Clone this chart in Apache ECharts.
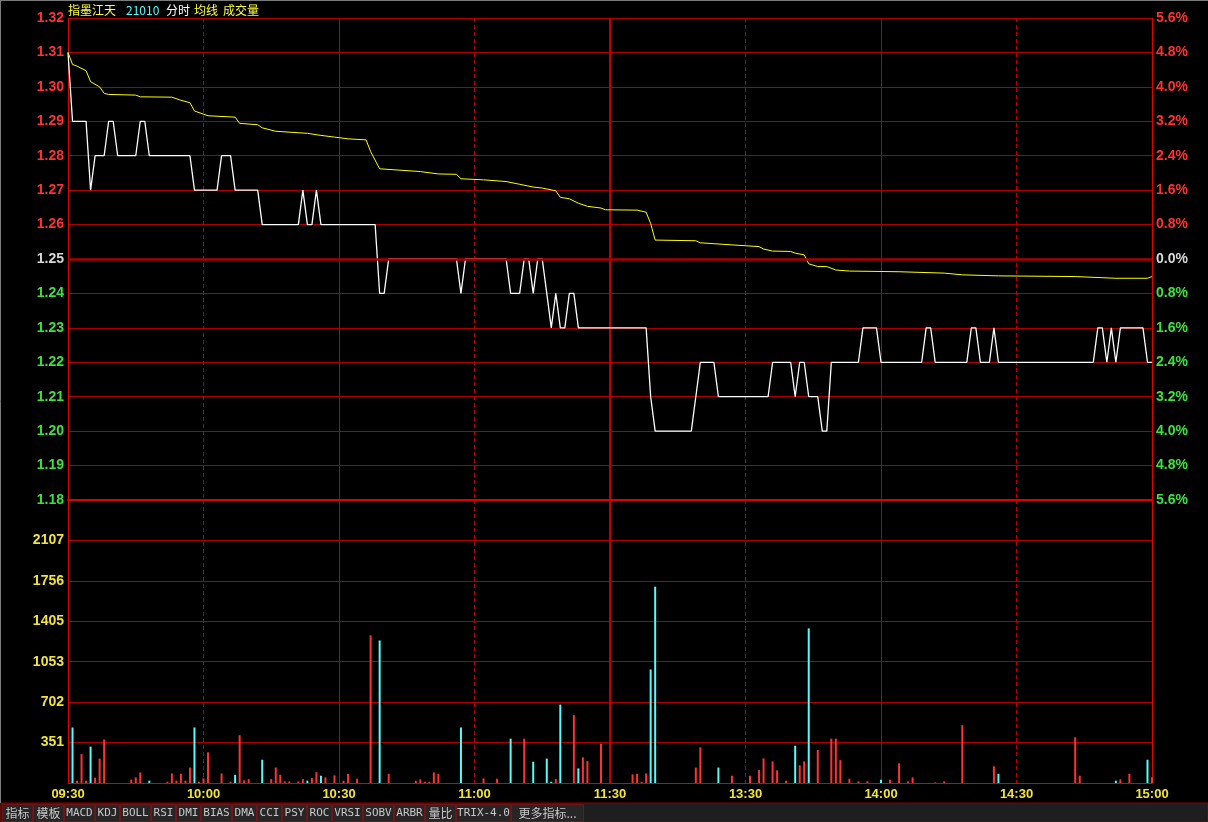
<!DOCTYPE html>
<html><head><meta charset="utf-8">
<script src="https://cdn.jsdelivr.net/npm/echarts@6/dist/echarts.min.js"></script>
<style>html,body{margin:0;padding:0;background:#000;}#c{width:1208px;height:822px;}</style>
</head><body><div id="c"></div>
<script>
// ---------------- data ----------------
const stockName = '指墨江天';
const stockCode = '21010';
const prevClose = 1.25;
const timeLabels = ['09:30','10:00','10:30','11:00','11:30','13:30','14:00','14:30','15:00'];
const volTickLabels = [351, 702, 1053, 1405, 1756, 2107];
// minute prices (241 points, 09:30 .. 11:30 / 13:01 .. 15:00)
const price = [
1.31,1.29,1.29,1.29,1.29,1.27,1.28,1.28,1.28,1.29,
1.29,1.28,1.28,1.28,1.28,1.28,1.29,1.29,1.28,1.28,
1.28,1.28,1.28,1.28,1.28,1.28,1.28,1.28,1.27,1.27,
1.27,1.27,1.27,1.27,1.28,1.28,1.28,1.27,1.27,1.27,
1.27,1.27,1.27,1.26,1.26,1.26,1.26,1.26,1.26,1.26,
1.26,1.26,1.27,1.26,1.26,1.27,1.26,1.26,1.26,1.26,
1.26,1.26,1.26,1.26,1.26,1.26,1.26,1.26,1.26,1.24,
1.24,1.25,1.25,1.25,1.25,1.25,1.25,1.25,1.25,1.25,
1.25,1.25,1.25,1.25,1.25,1.25,1.25,1.24,1.25,1.25,
1.25,1.25,1.25,1.25,1.25,1.25,1.25,1.25,1.24,1.24,
1.24,1.25,1.25,1.24,1.25,1.25,1.24,1.23,1.24,1.23,
1.23,1.24,1.24,1.23,1.23,1.23,1.23,1.23,1.23,1.23,
1.23,1.23,1.23,1.23,1.23,1.23,1.23,1.23,1.23,1.21,
1.20,1.20,1.20,1.20,1.20,1.20,1.20,1.20,1.20,1.21,
1.22,1.22,1.22,1.22,1.21,1.21,1.21,1.21,1.21,1.21,
1.21,1.21,1.21,1.21,1.21,1.21,1.22,1.22,1.22,1.22,
1.22,1.21,1.22,1.22,1.21,1.21,1.21,1.20,1.20,1.22,
1.22,1.22,1.22,1.22,1.22,1.22,1.23,1.23,1.23,1.23,
1.22,1.22,1.22,1.22,1.22,1.22,1.22,1.22,1.22,1.22,
1.23,1.23,1.22,1.22,1.22,1.22,1.22,1.22,1.22,1.22,
1.23,1.23,1.22,1.22,1.22,1.23,1.22,1.22,1.22,1.22,
1.22,1.22,1.22,1.22,1.22,1.22,1.22,1.22,1.22,1.22,
1.22,1.22,1.22,1.22,1.22,1.22,1.22,1.22,1.23,1.23,
1.22,1.23,1.22,1.23,1.23,1.23,1.23,1.23,1.23,1.22,
1.22
];
// average line read at knots [minute index, value]
const avgLine = [
[0,1.310],[1,1.3065],[2,1.306],[4,1.3047],[5,1.3015],[7,1.300],[8,1.2981],[9,1.2978],
[15,1.2976],[16,1.2971],[23,1.2970],[25,1.2961],[27,1.2954],[28,1.293],[31,1.2916],
[37,1.2912],[38,1.2894],[42,1.289],[43,1.2881],[46,1.2871],[53,1.2865],[56,1.2859],
[59,1.2854],[62,1.2849],[66,1.2846],[67,1.2812],[69,1.2762],[78,1.2754],[82,1.2747],
[86,1.2746],[87,1.2733],[92,1.273],[97,1.2725],[100,1.2717],[103,1.2709],[105,1.2706],
[108,1.2698],[109,1.2679],[111,1.2675],[113,1.2662],[115,1.2653],[118,1.2648],[119,1.2643],
[126,1.2642],[128,1.2636],[129,1.2603],[130,1.2555],[139,1.2553],[140,1.2547],[147,1.2541],
[153,1.2536],[154,1.2529],[156,1.2523],[160,1.2522],[161,1.2517],[163,1.2512],[164,1.2486],
[166,1.2478],[168,1.2478],[170,1.2468],[173,1.2465],[184,1.2463],[194,1.2459],[198,1.2454],
[206,1.2451],[223,1.2449],[232,1.2444],[239,1.2444],[240,1.2449]
];
// volume bars [minute index, volume]
const volUp = [
[2,20],[3,252],[4,20],[6,46],[7,212],[8,378],[14,29],[15,49],[16,92],[22,11],[23,83],[24,20],
[25,80],[26,20],[27,134],[29,11],[30,40],[31,266],[34,83],[36,11],[38,415],[39,23],[40,34],
[45,34],[46,134],[47,71],[48,14],[49,14],[51,14],[52,34],[54,43],[55,94],[57,49],[59,66],
[61,20],[62,80],[64,37],[67,1282],[71,80],[77,20],[78,31],[79,11],[80,11],[81,92],[82,80],
[92,40],[95,37],[101,385],[108,34],[112,589],[114,223],[115,190],[118,340],[125,74],[126,80],
[127,11],[128,83],[139,134],[140,310],[147,63],[151,63],[153,114],[154,214],[156,188],[157,110],
[159,20],[162,154],[163,188],[166,287],[169,385],[170,385],[171,199],[173,37],[175,14],[177,14],
[182,29],[184,170],[186,14],[187,49],[192,5],[194,14],[198,502],[205,145],[223,397],[224,63],
[233,31],[235,80],[240,49]
];
const volDown = [
[1,482],[5,316],[18,20],[28,482],[37,71],[43,202],[53,20],[56,63],[69,1238],[87,482],[98,385],
[103,185],[106,212],[107,11],[109,681],[113,127],[129,986],[130,1705],[144,134],[161,324],
[164,1343],[180,29],[206,80],[232,20],[239,202]
];
const tabs = ['指标','模板','MACD','KDJ','BOLL','RSI','DMI','BIAS','DMA','CCI','PSY','ROC','VRSI','SOBV','ARBR','量比','TRIX-4.0','更多指标...'];

// ---------------- build ----------------
const cats = [];
for (let i = 0; i <= 240; i++) {
  let t = i <= 120 ? 9 * 60 + 30 + i : 13 * 60 + (i - 120);
  cats.push(String(Math.floor(t / 60)).padStart(2, '0') + ':' + String(t % 60).padStart(2, '0'));
}
const upArr = new Array(241).fill(null);
volUp.forEach(d => upArr[d[0]] = d[1]);
const dnArr = new Array(241).fill(null);
volDown.forEach(d => dnArr[d[0]] = d[1]);

const RED = '#ff3232', GREEN = '#3fe03f', WHITE = '#d8d8d8', YEL = '#f2e43a', CYAN = '#54fcfc';
const GRID_H = '#aa0000', GRID_V = '#c00000', BORDER = '#e00000';
const FONT = "'Liberation Sans', Arial, sans-serif";

// helper axes drawing the vertical grid of a panel
function gridAxes(g) {
  const base = { type: 'category', gridIndex: g, data: cats, boundaryGap: false, show: true,
    axisLine: { show: false }, axisTick: { show: false }, axisLabel: { show: false } };
  return [
    Object.assign({}, base, { splitLine: { show: true, interval: (i) => i === 60 || i === 180,
      lineStyle: { color: GRID_V, width: 1, type: 'solid' } } }),
    Object.assign({}, base, { splitLine: { show: true, interval: (i) => i === 120,
      lineStyle: { color: GRID_V, width: 2, type: 'solid' } } }),
    Object.assign({}, base, { splitLine: { show: true, interval: (i) => i % 60 === 30,
      lineStyle: { color: GRID_V, width: 1, type: [4, 3] } } })
  ];
}

const graphics = [];
// title
[[stockName, 68, '#ffff3c'], [stockCode, 126, CYAN], ['分时', 166, '#ffffff'], ['均线', 194, '#ffff3c'], ['成交量', 223, '#ffff3c']]
  .forEach(t => graphics.push({ type: 'text', x: t[1], y: 10, silent: true,
    style: { text: t[0], fill: t[2], font: "12px 'Noto Sans CJK SC', 'Liberation Sans', sans-serif", verticalAlign: 'middle', align: 'left' } }));
// bottom tab bar
graphics.push({ type: 'rect', shape: { x: 0, y: 803, width: 1208, height: 19 }, style: { fill: '#1e1e1e', stroke: '#8a0000', lineWidth: 1 }, silent: true });
let tx = 2;
tabs.forEach(name => {
  const cjk = (name.match(/[\u4e00-\u9fff]/g) || []).length;
  const w = cjk * 12 + (name.length - cjk) * 6 + 7;
  graphics.push({ type: 'rect', shape: { x: tx + 0.5, y: 804.5, width: w - 1, height: 17 }, style: { fill: '#262626', stroke: '#6e1616', lineWidth: 1 }, silent: true });
  graphics.push({ type: 'text', x: tx + w / 2, y: 813, silent: true,
    style: { text: name, fill: '#c8c8c8', align: 'center', verticalAlign: 'middle',
      font: cjk ? "12px 'Noto Sans CJK SC', sans-serif" : "11px 'DejaVu Sans Mono', monospace" } });
  tx += w;
});
// outer window edge
graphics.push({ type: 'line', shape: { x1: 0, y1: 0.5, x2: 1208, y2: 0.5 }, style: { stroke: '#7a7a7a', lineWidth: 1 }, silent: true });
graphics.push({ type: 'line', shape: { x1: 0.5, y1: 0, x2: 0.5, y2: 803 }, style: { stroke: '#7a7a7a', lineWidth: 1 }, silent: true });

const chart = echarts.init(document.getElementById('c'), null, { renderer: 'canvas' });
chart.setOption({
  backgroundColor: '#000',
  animation: false,
  graphic: graphics,
  grid: [
    { left: 68, right: 56, top: 18, height: 482 },
    { left: 68, right: 56, top: 500, height: 283 }
  ],
  xAxis: [
    { type: 'category', gridIndex: 0, data: cats, boundaryGap: false,
      axisLine: { show: true, onZero: false, lineStyle: { color: BORDER, width: 2 } },
      axisTick: { show: false }, axisLabel: { show: false }, splitLine: { show: false } },
    { type: 'category', gridIndex: 1, data: cats, boundaryGap: false,
      axisLine: { show: true, onZero: false, lineStyle: { color: BORDER, width: 1 } },
      axisTick: { show: false }, splitLine: { show: false },
      axisLabel: { color: YEL, fontFamily: FONT, fontSize: 13, fontWeight: 'bold', margin: 5,
        interval: (idx) => idx % 30 === 0,
        formatter: (v, idx) => timeLabels[Math.round(idx / 30)] } }
  ].concat(gridAxes(0), gridAxes(1)),
  yAxis: [
    { type: 'value', gridIndex: 0, min: 1.18, max: 1.32, interval: 0.01, position: 'left',
      axisLine: { show: true, lineStyle: { color: BORDER, width: 1 } }, axisTick: { show: false },
      splitLine: { show: true, lineStyle: { color: GRID_H, width: 1 } },
      axisLabel: { margin: 4, fontFamily: FONT, fontSize: 14, fontWeight: 'bold',
        formatter: v => { const d = Math.round((v - prevClose) * 100); const s = v.toFixed(2);
          return d > 0 ? '{r|' + s + '}' : d < 0 ? '{g|' + s + '}' : '{w|' + s + '}'; },
        rich: { r: { color: RED, fontFamily: FONT, fontSize: 14, fontWeight: 'bold' },
                g: { color: GREEN, fontFamily: FONT, fontSize: 14, fontWeight: 'bold' },
                w: { color: WHITE, fontFamily: FONT, fontSize: 14, fontWeight: 'bold' } } } },
    { type: 'value', gridIndex: 0, min: 1.18, max: 1.32, interval: 0.01, position: 'right',
      axisLine: { show: true, lineStyle: { color: BORDER, width: 1 } }, axisTick: { show: false },
      splitLine: { show: false },
      axisLabel: { margin: 4, fontFamily: FONT, fontSize: 14, fontWeight: 'bold',
        formatter: v => { const d = Math.round((v - prevClose) * 100);
          const s = (Math.abs(v - prevClose) / prevClose * 100).toFixed(1) + '%';
          return d > 0 ? '{r|' + s + '}' : d < 0 ? '{g|' + s + '}' : '{w|' + s + '}'; },
        rich: { r: { color: RED, fontFamily: FONT, fontSize: 14, fontWeight: 'bold' },
                g: { color: GREEN, fontFamily: FONT, fontSize: 14, fontWeight: 'bold' },
                w: { color: WHITE, fontFamily: FONT, fontSize: 14, fontWeight: 'bold' } } } },
    { type: 'value', gridIndex: 1, min: 0, max: 351.15 * 7, interval: 351.15, position: 'left',
      axisLine: { show: true, lineStyle: { color: BORDER, width: 1 } }, axisTick: { show: false },
      splitLine: { show: true, lineStyle: { color: GRID_H, width: 1 } },
      axisLabel: { margin: 4, color: YEL, fontFamily: FONT, fontSize: 14, fontWeight: 'bold',
        showMinLabel: false, showMaxLabel: false,
        formatter: v => { const k = Math.round(v / 351.15); return (k >= 1 && k <= volTickLabels.length) ? String(volTickLabels[k - 1]) : ''; } } },
    { type: 'value', gridIndex: 1, min: 0, max: 351.15 * 7, interval: 351.15, position: 'right',
      axisLine: { show: true, lineStyle: { color: BORDER, width: 1 } }, axisTick: { show: false },
      splitLine: { show: false }, axisLabel: { show: false } }
  ],
  series: [
    { type: 'line', xAxisIndex: 0, yAxisIndex: 0, data: price, showSymbol: false, silent: true,
      lineStyle: { color: '#ffffff', width: 1.3 },
      markLine: { silent: true, symbol: 'none', label: { show: false },
        data: [{ yAxis: prevClose, lineStyle: { color: GRID_H, width: 2.5, type: 'solid' } }] } },
    { type: 'line', xAxisIndex: 0, yAxisIndex: 0, data: avgLine, showSymbol: false, silent: true,
      lineStyle: { color: '#ffff00', width: 1 } },
    { type: 'bar', xAxisIndex: 1, yAxisIndex: 2, data: upArr, barWidth: 2, barGap: '-100%', silent: true,
      itemStyle: { color: RED } },
    { type: 'bar', xAxisIndex: 1, yAxisIndex: 2, data: dnArr, barWidth: 2, barGap: '-100%', silent: true,
      itemStyle: { color: CYAN } }
  ]
});
</script>
</body></html>
